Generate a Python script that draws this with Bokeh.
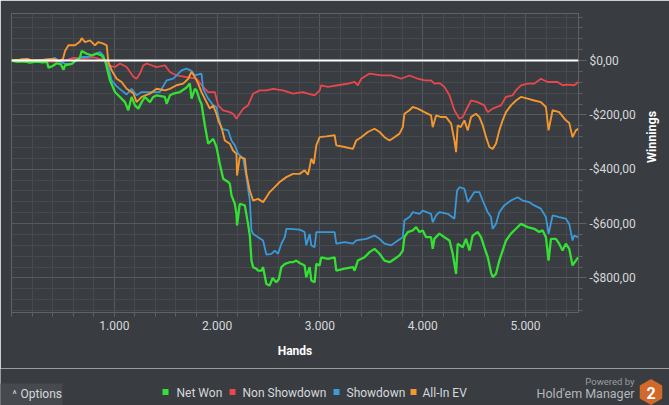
import math
from bokeh.plotting import figure
from bokeh.models import Range1d, FixedTicker, Span
from bokeh.layouts import column
from bokeh.embed import file_html
from bokeh.resources import INLINE
from bokeh.core.properties import value

# ---------------- data ----------------
series_names = ["Net Won", "Non Showdown", "Showdown", "All-In EV"]
series_colors = ["#33e033", "#e8474c", "#3a9ad9", "#f5972f"]

netwon_hands = [0, 60, 120, 180, 240, 300, 345, 360, 400, 440, 480, 505, 521, 586, 618, 650, 667, 683, 732, 780, 829, 877, 910, 926, 958, 1007, 1055, 1104, 1136, 1168, 1201, 1233, 1266, 1298, 1347, 1379, 1411, 1492, 1509, 1541, 1573, 1638, 1700, 1735, 1751, 1784, 1800, 1832, 1848, 1881, 1913, 1962, 1994, 2026, 2059, 2107, 2123, 2140, 2172, 2188, 2194, 2220, 2269, 2301, 2318, 2334, 2350, 2382, 2398, 2431, 2447, 2479, 2510, 2540, 2575, 2600, 2625, 2660, 2706, 2738, 2770, 2803, 2851, 2867, 2900, 2916, 2948, 2965, 2997, 3013, 3078, 3143, 3159, 3240, 3321, 3337, 3369, 3434, 3483, 3531, 3580, 3628, 3677, 3725, 3774, 3806, 3822, 3855, 3903, 3936, 3968, 4000, 4033, 4081, 4097, 4114, 4162, 4211, 4260, 4292, 4324, 4340, 4389, 4421, 4454, 4486, 4535, 4567, 4599, 4632, 4664, 4680, 4712, 4745, 4777, 4810, 4858, 4907, 4955, 5020, 5085, 5133, 5166, 5198, 5224, 5247, 5295, 5327, 5360, 5392, 5425, 5457, 5489, 5512]
netwon_vals = [0, -5, -3, -8, -4, -7, -5, -26, -20, -10, -14, -34, -18, -12, -2, 5, 13, 35, 25, 19, 25, 19, 0, -24, -73, -116, -134, -153, -183, -134, -165, -177, -153, -134, -153, -134, -128, -134, -159, -128, -122, -116, -100, -85, -140, -104, -110, -147, -159, -239, -306, -288, -318, -380, -435, -447, -453, -496, -527, -564, -607, -527, -533, -601, -644, -736, -760, -766, -773, -773, -760, -822, -828, -800, -816, -805, -760, -748, -742, -742, -736, -745, -754, -797, -760, -809, -816, -748, -754, -724, -730, -724, -773, -766, -760, -773, -736, -724, -705, -693, -711, -736, -742, -730, -717, -699, -650, -631, -625, -613, -631, -625, -650, -650, -693, -655, -637, -650, -662, -711, -785, -674, -687, -656, -699, -644, -631, -650, -687, -723, -779, -797, -785, -736, -699, -662, -637, -619, -601, -613, -619, -631, -625, -650, -736, -656, -656, -674, -699, -674, -693, -754, -736, -724]

nonsd_hands = [0, 100, 200, 300, 400, 500, 550, 600, 700, 800, 850, 910, 942, 1007, 1055, 1120, 1185, 1217, 1249, 1282, 1314, 1411, 1492, 1541, 1605, 1702, 1800, 1864, 1913, 1978, 2010, 2058, 2123, 2155, 2188, 2220, 2253, 2301, 2350, 2414, 2479, 2544, 2641, 2738, 2835, 2884, 2948, 2997, 3013, 3078, 3175, 3272, 3337, 3369, 3402, 3483, 3596, 3693, 3790, 3871, 3952, 4017, 4081, 4114, 4162, 4211, 4260, 4308, 4357, 4389, 4421, 4470, 4534, 4599, 4631, 4680, 4761, 4809, 4874, 4906, 4955, 5020, 5085, 5149, 5214, 5311, 5360, 5408, 5473, 5512]
nonsd_vals = [0, -3, -5, -2, -4, -1, 3, 10, 8, 12, 6, 3, -18, -24, -11, -24, -60, -67, -48, -18, -11, -24, -18, -42, -55, -61, -67, -97, -116, -116, -165, -183, -190, -196, -214, -196, -177, -165, -122, -110, -110, -104, -110, -122, -116, -122, -128, -110, -91, -97, -91, -85, -79, -91, -67, -48, -55, -55, -67, -55, -67, -73, -73, -85, -83, -97, -128, -183, -214, -208, -183, -147, -153, -165, -190, -177, -165, -134, -128, -110, -91, -85, -85, -67, -79, -79, -91, -89, -91, -79]

sd_hands = [0, 80, 150, 200, 300, 400, 424, 460, 521, 586, 618, 683, 748, 812, 861, 893, 910, 942, 974, 1023, 1071, 1120, 1168, 1217, 1266, 1330, 1443, 1509, 1573, 1654, 1702, 1751, 1784, 1848, 1864, 1913, 1962, 1994, 2010, 2042, 2107, 2140, 2172, 2205, 2253, 2285, 2318, 2334, 2350, 2398, 2447, 2479, 2528, 2561, 2593, 2625, 2658, 2674, 2706, 2803, 2851, 2867, 2900, 2916, 2948, 2965, 3013, 3078, 3143, 3159, 3240, 3321, 3353, 3450, 3531, 3580, 3628, 3693, 3758, 3806, 3822, 3871, 3903, 3968, 4000, 4081, 4097, 4130, 4162, 4243, 4308, 4334, 4357, 4405, 4438, 4470, 4502, 4551, 4583, 4632, 4664, 4680, 4712, 4745, 4793, 4858, 4923, 4972, 5036, 5085, 5149, 5198, 5224, 5263, 5327, 5392, 5425, 5457, 5473, 5512]
sd_vals = [0, 3, 6, 0, 2, 6, 10, -2, -12, -12, -2, 13, 13, 25, 31, 19, 0, -24, -73, -95, -110, -125, -104, -128, -116, -116, -116, -73, -67, -36, -30, -38, -55, -48, -104, -140, -165, -171, -202, -251, -257, -294, -312, -343, -361, -429, -515, -625, -638, -650, -662, -714, -711, -699, -711, -674, -650, -619, -619, -622, -631, -680, -638, -680, -687, -631, -631, -631, -631, -674, -668, -674, -662, -656, -644, -656, -674, -680, -662, -650, -588, -576, -558, -564, -552, -564, -595, -570, -558, -564, -582, -478, -466, -472, -521, -503, -484, -484, -515, -558, -576, -619, -601, -558, -533, -515, -503, -515, -521, -533, -545, -576, -638, -570, -576, -582, -601, -662, -644, -650]

allin_hands = [0, 80, 150, 200, 300, 400, 460, 500, 521, 554, 618, 667, 683, 715, 764, 812, 845, 893, 926, 942, 974, 1023, 1071, 1120, 1185, 1217, 1266, 1346, 1411, 1492, 1540, 1605, 1670, 1719, 1751, 1783, 1816, 1848, 1897, 1929, 1961, 1994, 2010, 2042, 2075, 2123, 2155, 2188, 2194, 2220, 2269, 2285, 2317, 2350, 2398, 2447, 2479, 2511, 2560, 2608, 2673, 2738, 2803, 2851, 2884, 2900, 2916, 2940, 2965, 2997, 3062, 3143, 3159, 3240, 3321, 3353, 3402, 3466, 3531, 3580, 3628, 3677, 3725, 3774, 3806, 3822, 3871, 3903, 3952, 4017, 4081, 4097, 4130, 4178, 4227, 4276, 4308, 4324, 4340, 4370, 4405, 4438, 4470, 4518, 4551, 4583, 4616, 4648, 4680, 4712, 4745, 4777, 4810, 4858, 4907, 4955, 5020, 5085, 5149, 5198, 5224, 5263, 5327, 5392, 5425, 5457, 5489, 5512]
allin_vals = [0, 3, 6, 0, 2, 6, -2, 5, 35, 56, 56, 70, 82, 68, 74, 56, 68, 62, 56, -5, -36, -67, -79, -104, -120, -153, -134, -122, -104, -110, -104, -91, -85, -67, -42, -61, -85, -116, -153, -177, -165, -196, -220, -245, -294, -306, -331, -343, -423, -355, -361, -417, -478, -515, -509, -521, -503, -484, -466, -447, -429, -417, -417, -404, -420, -392, -361, -380, -312, -282, -279, -275, -312, -318, -325, -294, -282, -263, -251, -263, -282, -294, -282, -269, -245, -196, -183, -171, -177, -190, -202, -245, -202, -208, -208, -232, -294, -337, -238, -245, -220, -257, -208, -196, -208, -238, -282, -318, -325, -306, -257, -220, -190, -165, -147, -134, -140, -147, -153, -171, -257, -183, -190, -220, -230, -282, -257, -251]

x_major_ticks = [1000, 2000, 3000, 4000, 5000]
x_tick_labels = ["1.000", "2.000", "3.000", "4.000", "5.000"]
y_major_ticks = [0, -200, -400, -600, -800]
y_tick_labels = ["$0,00", "-$200,00", "-$400,00", "-$600,00", "-$800,00"]

# ---------------- styling ----------------
BG = "#393c40"
GRID_MAJOR = "#56595d"
GRID_MINOR = "#46494d"
EDGE = "#5f6266"
TXT = "#d6d9dc"
FONT = "Roboto"

p = figure(width=669, height=368, output_backend="svg", toolbar_location=None,
           x_range=Range1d(0, 5515), y_range=Range1d(-927, 173),
           y_axis_location="right",
           min_border_left=11, min_border_right=90, min_border_top=13, min_border_bottom=56,
           background_fill_color=BG, border_fill_color=BG)
p.outline_line_color = EDGE

xt = FixedTicker(ticks=x_major_ticks, minor_ticks=list(range(0, 5600, 200)))
yt = FixedTicker(ticks=y_major_ticks, minor_ticks=list(range(-920, 180, 40)))

p.xgrid.ticker = xt
p.ygrid.ticker = yt
for g in (p.xgrid, p.ygrid):
    g.grid_line_color = GRID_MAJOR
    g.minor_grid_line_color = GRID_MINOR

xa = p.xaxis[0]
xa.ticker = xt
xa.major_label_overrides = dict(zip(x_major_ticks, x_tick_labels))
xa.axis_line_color = None
xa.major_tick_line_color = EDGE
xa.minor_tick_line_color = EDGE
xa.major_tick_in = 0
xa.major_tick_out = 4
xa.minor_tick_in = 0
xa.minor_tick_out = 4
xa.major_label_standoff = 4
xa.major_label_text_color = TXT
xa.major_label_text_font = FONT
xa.major_label_text_font_size = "12px"
xa.axis_label = "Hands"
xa.axis_label_text_color = "#ffffff"
xa.axis_label_text_font = FONT
xa.axis_label_text_font_style = "bold"
xa.axis_label_text_font_size = "12px"
xa.axis_label_standoff = 11

ya = p.yaxis[0]
ya.ticker = yt
ya.major_label_overrides = dict(zip(y_major_ticks, y_tick_labels))
ya.axis_line_color = None
ya.major_tick_line_color = EDGE
ya.minor_tick_line_color = EDGE
ya.major_tick_in = 0
ya.major_tick_out = 8
ya.minor_tick_in = 0
ya.minor_tick_out = 4
ya.major_label_standoff = 3
ya.major_label_text_color = TXT
ya.major_label_text_font = FONT
ya.major_label_text_font_size = "12px"
ya.axis_label = "Winnings"
ya.axis_label_text_color = "#ffffff"
ya.axis_label_text_font = FONT
ya.axis_label_text_font_style = "bold"
ya.axis_label_text_font_size = "12.5px"
ya.axis_label_standoff = 13
try:
    ya.axis_label_orientation = math.pi / 2
except Exception:
    pass

p.line(nonsd_hands, nonsd_vals, line_color=series_colors[1], line_width=1.8)
p.line(sd_hands, sd_vals, line_color=series_colors[2], line_width=1.8)
p.line(allin_hands, allin_vals, line_color=series_colors[3], line_width=1.9)
p.line(netwon_hands, netwon_vals, line_color=series_colors[0], line_width=2.3)

p.add_layout(Span(location=0, dimension="width", line_color="#ffffff", line_width=2))

# ---------------- footer (options, legend, branding) ----------------
f = figure(width=669, height=37, output_backend="svg", toolbar_location=None,
           x_range=Range1d(0, 669), y_range=Range1d(37, 0),
           x_axis_type=None, y_axis_type=None, min_border=0,
           background_fill_color=BG, border_fill_color=BG)
f.outline_line_color = None
f.grid.visible = False

# keep each figure's frame independent (no frame alignment inside the column)
for fig in (p, f):
    try:
        fig.frame_align = False
    except Exception:
        pass

f.quad(left=[-2], right=[62], top=[15], bottom=[40], fill_color="#46494d", line_color=None)
f.text(x=[14], y=[26], text=["^"], text_color=TXT, text_font=value(FONT), text_font_size="10px",
       text_align="center", text_baseline="middle")
f.text(x=[20], y=[25], text=["Options"], text_color=TXT, text_font=value(FONT), text_font_size="12px",
       text_align="left", text_baseline="middle")

leg_sq_x = [165, 232, 336, 413]
leg_tx_x = [176, 242, 346, 422]
f.scatter(x=leg_sq_x, y=[23.5] * 4, marker="square", size=6, fill_color=series_colors, line_color=None)
f.text(x=leg_tx_x, y=[24.7] * 4, text=series_names, text_color=TXT, text_font=value(FONT),
       text_font_size="12px", text_align="left", text_baseline="middle")

f.text(x=[634], y=[13], text=["Powered by"], text_color="#9a9da1", text_font=value(FONT),
       text_font_size="9.5px", text_align="right", text_baseline="middle")
f.text(x=[634], y=[24.7], text=["Hold'em Manager"], text_color="#b4b7ba", text_font=value(FONT),
       text_font_size="12.5px", text_align="right", text_baseline="middle")
f.scatter(x=[650.5], y=[23.5], marker="hex", size=26, angle=math.pi / 6,
          fill_color="#d0692a", line_color=None)
f.text(x=[650.5], y=[24.5], text=["2"], text_color="#ffffff", text_font=value(FONT),
       text_font_size="16px", text_font_style="bold", text_align="center", text_baseline="middle")

layout = column(p, f, spacing=0)
open("out.html", "w").write(file_html(layout, INLINE))
